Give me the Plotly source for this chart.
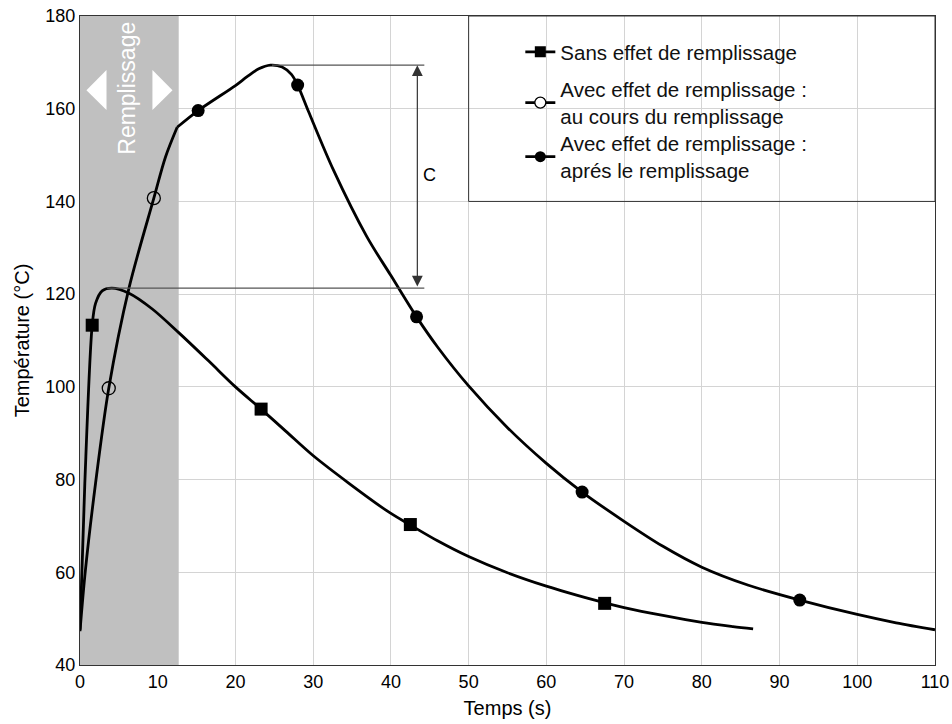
import plotly.graph_objects as go

# ---- data ----
# Curve without filling effect (squares)
sans_x = [0.0, 0.62, 1.57, 2.0, 2.85, 4.1, 6.3, 9.3, 12.7, 16.6, 20.0, 23.3, 26.5, 29.9, 34.6, 39.9, 42.5, 46.0, 50.0, 55.0, 60.0, 64.0, 67.5, 70.0, 75.0, 80.0, 84.0, 86.6]
sans_y = [47.6, 79.2, 113.3, 118.0, 120.7, 121.3, 120.2, 116.8, 111.7, 105.5, 100.0, 95.2, 90.4, 85.3, 79.2, 72.8, 70.2, 66.8, 63.4, 59.9, 57.0, 55.0, 53.4, 52.4, 50.7, 49.2, 48.3, 47.8]

# Curve with filling effect, during filling (open circles)
pend_x = [0.0, 0.7, 2.0, 3.7, 6.3, 9.5, 11.0, 12.5]
pend_y = [47.3, 60.5, 79.2, 99.7, 121.3, 140.7, 149.6, 156.0]

# Curve with filling effect, after filling (filled circles)
apres_x = [12.5, 15.2, 20.0, 21.5, 23.0, 24.5, 26.0, 27.2, 28.0, 29.4, 32.6, 36.9, 40.0, 43.3, 46.0, 50.0, 55.0, 60.0, 64.6, 70.0, 75.0, 80.0, 86.0, 92.6, 100.0, 105.0, 110.0]
apres_y = [156.0, 159.6, 165.0, 166.9, 168.6, 169.4, 169.0, 167.4, 165.1, 159.4, 146.8, 132.4, 124.0, 115.1, 108.6, 100.2, 91.2, 83.5, 77.3, 71.0, 65.6, 61.1, 57.2, 54.0, 50.9, 49.1, 47.6]

# Marker positions
sq_x = [1.57, 23.3, 42.5, 67.5]
sq_y = [113.3, 95.2, 70.3, 53.3]
open_x = [3.7, 9.5]
open_y = [99.7, 140.7]
fill_x = [15.2, 28.0, 43.3, 64.6, 92.6]
fill_y = [159.6, 165.1, 115.1, 77.3, 54.0]

legend_names = ["Sans effet de remplissage",
                "Avec effet de remplissage :<br>au cours du remplissage",
                "Avec effet de remplissage :<br>aprés le remplissage"]

x_ticks = list(range(0, 111, 10))
y_ticks = list(range(40, 181, 20))

fill_end = 12.7       # end of filling phase (s)
t_peak_high = 169.4   # peak with filling effect
t_peak_low = 121.3    # peak without filling effect

FONT = "Arial, 'Liberation Sans', sans-serif"
LW = 2.8

fig = go.Figure()

line_style = dict(color="black", width=LW, shape="spline", smoothing=0.9)
fig.add_trace(go.Scatter(x=sans_x, y=sans_y, mode="lines", line=line_style, showlegend=False, hoverinfo="skip"))
fig.add_trace(go.Scatter(x=pend_x, y=pend_y, mode="lines", line=line_style, showlegend=False, hoverinfo="skip"))
fig.add_trace(go.Scatter(x=apres_x, y=apres_y, mode="lines", line=line_style, showlegend=False, hoverinfo="skip"))

# markers
fig.add_trace(go.Scatter(x=sq_x, y=sq_y, mode="markers", marker=dict(symbol="square", size=13, color="black"), showlegend=False))
fig.add_trace(go.Scatter(x=open_x, y=open_y, mode="markers", marker=dict(symbol="circle-open", size=13, color="black", line=dict(width=1.3)), showlegend=False))
fig.add_trace(go.Scatter(x=fill_x, y=fill_y, mode="markers", marker=dict(symbol="circle", size=13, color="black"), showlegend=False))

# legend entries (each in its own legend for exact vertical placement)
fig.add_trace(go.Scatter(x=[None], y=[None], mode="lines+markers", name=legend_names[0], legend="legend",
                         line=dict(color="black", width=LW), marker=dict(symbol="square", size=11, color="black")))
fig.add_trace(go.Scatter(x=[None], y=[None], mode="lines+markers", name=legend_names[1], legend="legend2",
                         line=dict(color="black", width=LW), marker=dict(symbol="circle", size=11, color="white", line=dict(color="black", width=1.3))))
fig.add_trace(go.Scatter(x=[None], y=[None], mode="lines+markers", name=legend_names[2], legend="legend3",
                         line=dict(color="black", width=LW), marker=dict(symbol="circle", size=11, color="black")))

shapes = [
    dict(type="rect", xref="x", yref="y", x0=0, x1=fill_end, y0=40, y1=180, fillcolor="#c0c0c0", line=dict(width=0), layer="between"),
    dict(type="path", xref="x", yref="y", path="M 0.83 164.0 L 3.41 168.35 L 3.41 159.7 Z", fillcolor="white", line=dict(width=0), layer="between"),
    dict(type="path", xref="x", yref="y", path="M 11.9 164.0 L 9.32 168.35 L 9.32 159.7 Z", fillcolor="white", line=dict(width=0), layer="between"),
    dict(type="rect", xref="x", yref="y", x0=50, x1=110, y0=140, y1=180, line=dict(color="#333", width=1), fillcolor="rgba(0,0,0,0)", layer="above"),
    dict(type="line", xref="x", yref="y", x0=24.7, x1=44.3, y0=t_peak_high, y1=t_peak_high, line=dict(color="#555", width=1.2)),
    dict(type="line", xref="x", yref="y", x0=3.5, x1=44.3, y0=t_peak_low, y1=t_peak_low, line=dict(color="#555", width=1.2)),
]

annotations = [
    dict(x=6.1, y=164.4, xref="x", yref="y", text="Remplissage", textangle=-90, showarrow=False,
         font=dict(family=FONT, size=23, color="white")),
    dict(x=43.4, y=t_peak_high, ax=43.4, ay=t_peak_low, xref="x", yref="y", axref="x", ayref="y",
         text="", showarrow=True, arrowhead=2, startarrowhead=2, arrowside="end+start",
         arrowsize=1.8, arrowwidth=1.2, arrowcolor="#333", standoff=0, startstandoff=0),
    dict(x=44.9, y=145.8, xref="x", yref="y", text="C", showarrow=False, font=dict(family=FONT, size=18, color="black")),
]

leg_common = dict(x=0.515, xanchor="left", yanchor="middle", bgcolor="rgba(0,0,0,0)",
                  font=dict(family=FONT, size=20.5, color="#111"), borderwidth=0, itemwidth=30)

fig.update_layout(
    width=952, height=724,
    margin=dict(l=80, r=17, t=16, b=59, autoexpand=False),
    paper_bgcolor="white", plot_bgcolor="white",
    font=dict(family=FONT, size=18, color="black"),
    shapes=shapes, annotations=annotations,
    legend=dict(y=0.9445, **leg_common),
    legend2=dict(y=0.866, **leg_common),
    legend3=dict(y=0.7827, **leg_common),
)
fig.update_xaxes(range=[0, 110], tickvals=x_ticks, showgrid=True, gridcolor="#d4d4d4", gridwidth=1,
                 zeroline=False, showline=True, linecolor="#333", linewidth=1, mirror=True, ticks="",
                 automargin=False,
                 title=dict(text="Temps (s)", font=dict(size=20), standoff=10), tickfont=dict(size=18))
fig.update_yaxes(range=[40, 180], tickvals=y_ticks, showgrid=True, gridcolor="#d4d4d4", gridwidth=1,
                 zeroline=False, showline=True, linecolor="#333", linewidth=1, mirror=True, ticks="",
                 automargin=False,
                 title=dict(text="Température (°C)", font=dict(size=20), standoff=10), tickfont=dict(size=18))

fig.write_html("out.html", config={"displayModeBar": False},
               post_script="document.body.style.margin='0';document.body.style.overflow='hidden';")
